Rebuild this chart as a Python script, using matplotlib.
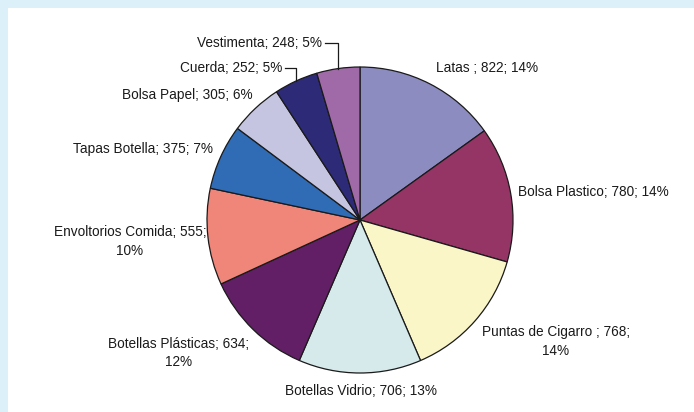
import numpy as np
import matplotlib
matplotlib.use('Agg')
import matplotlib.pyplot as plt
from matplotlib.patches import Rectangle

# residuos recolectados por tipo
categorias = ['Latas ', 'Bolsa Plastico', 'Puntas de Cigarro ', 'Botellas Vidrio',
              'Botellas Plásticas', 'Envoltorios Comida', 'Tapas Botella',
              'Bolsa Papel', 'Cuerda', 'Vestimenta']
cantidades = [822, 780, 768, 706, 634, 555, 375, 305, 252, 248]
porcentajes = [14, 14, 14, 13, 12, 10, 7, 6, 5, 5]

colores = ['#8c8cc0', '#953566', '#faf6c8', '#d6eaeb', '#631f66',
           '#f0857a', '#2f6cb5', '#c5c5e1', '#2d2a78', '#a06aa8']

W, H = 694, 412
cx, cy, radio = 360, 220, 153

# posicion de cada etiqueta (x, y en pixeles desde arriba, alineacion, salto de linea)
etiquetas_pos = [
    (436, 68, 'left', False),
    (518, 192, 'left', False),
    (556, 341.5, 'center', True),
    (361, 391, 'center', False),
    (179, 353, 'center', True),
    (130, 241.5, 'center', True),
    (213, 149, 'right', False),
    (253, 95, 'right', False),
    (282, 68, 'right', False),
    (322, 43, 'right', False),
]
con_guia = ['Cuerda', 'Vestimenta']

fig = plt.figure(figsize=(W / 100, H / 100), dpi=100)
fig.patch.set_facecolor('#dcf0fa')
fig.patches.append(Rectangle((8 / W, 0), 1 - 8 / W, 1 - 8 / H,
                             transform=fig.transFigure, facecolor='white',
                             edgecolor='none', zorder=-1))

ax = fig.add_axes([0, 0, 1, 1])
ax.set_zorder(1)
ax.patch.set_alpha(0)

wedges, _ = ax.pie(cantidades, colors=colores, startangle=90, counterclock=False,
                   center=(cx, H - cy), radius=radio,
                   wedgeprops=dict(edgecolor='#1a1a1a', linewidth=0.9))

ax.set_xlim(0, W)
ax.set_ylim(0, H)
ax.set_aspect('equal')
ax.axis('off')

for i, (x, y, ha, dos_lineas) in enumerate(etiquetas_pos):
    sep = '\n' if dos_lineas else ' '
    texto = f'{categorias[i]}; {cantidades[i]};{sep}{porcentajes[i]}%'
    ax.text(x, H - y, texto, ha=ha, va='center', multialignment='center',
            fontsize=9.8, family='Liberation Sans', color='#1a1a1a',
            linespacing=1.38)

    if categorias[i] in con_guia:
        w = wedges[i]
        ang = np.deg2rad((w.theta1 + w.theta2) / 2)
        ex = cx + radio * np.cos(ang)
        ey = (H - cy) + radio * np.sin(ang)
        ax.plot([x + 3, ex, ex], [H - y, H - y, ey], color='#1a1a1a', lw=0.9)

fig.savefig('out.png', dpi=100, facecolor=fig.get_facecolor())
